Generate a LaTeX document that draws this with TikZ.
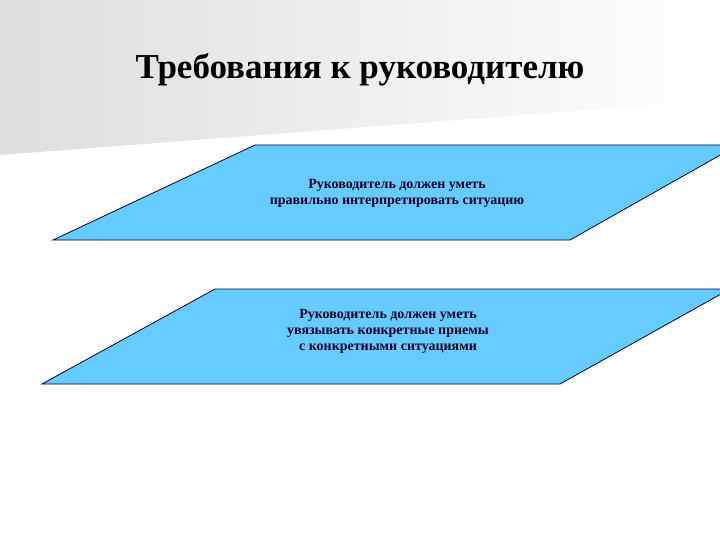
\documentclass[tikz,border=0pt]{standalone}
\usepackage{fontspec}
\setmainfont{Liberation Serif}
\begin{document}
\begin{tikzpicture}[x=1pt,y=-1pt,
  para/.style={fill=boxblue,draw=black!80!blue,line width=0.8pt},
  ptext/.style={font=\bfseries\fontsize{14}{16}\selectfont,text=black!85!blue,align=center}]
\definecolor{boxblue}{RGB}{102,204,255}
\useasboundingbox (0,0) rectangle (720,540);
\clip (0,0) rectangle (720,540);
\shade[left color=black!13,right color=white] (0,0) -- (720,0) -- (720,100) -- (0,155) -- cycle;
\node[font=\bfseries\fontsize{35}{40}\selectfont] (title) at (360,70) {Требования к руководителю};
\draw[para] (53,240) -- (255,145) -- (738,145) -- (570,240) -- cycle;
\node[ptext] (t1) at (397,193) {Руководитель должен уметь\\правильно интерпретировать ситуацию};
\draw[para] (42,384) -- (215,289) -- (730,289) -- (560,384) -- cycle;
\node[ptext] (t2) at (388,331) {Руководитель должен уметь\\увязывать конкретные приемы\\с конкретными ситуациями};
\end{tikzpicture}
\end{document}
